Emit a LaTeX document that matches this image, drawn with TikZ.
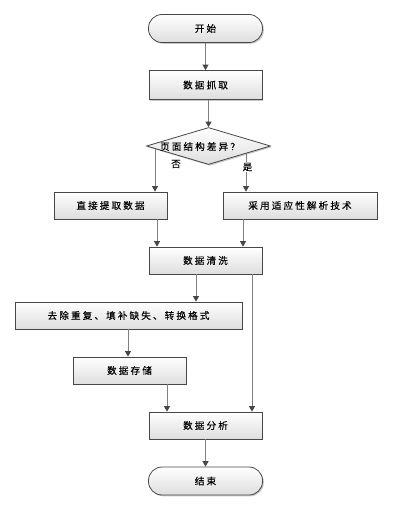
\documentclass[tikz,border=0pt]{standalone}
\usepackage{fontspec}
\newfontfamily\cjk[LetterSpace=22,FakeBold=0.15]{Noto Sans CJK SC}
\usetikzlibrary{arrows.meta,shapes.geometric,shadows,calc}
\begin{document}
\begin{tikzpicture}[x=1pt,y=-1pt,
  box/.style={draw=black!72, line width=0.8pt, top color=white, bottom color=black!13,
    drop shadow={shadow xshift=1.3pt, shadow yshift=-1.3pt, fill=black!35, opacity=0.6},
    minimum width=113pt, minimum height=27pt, inner sep=0pt,
    font=\cjk\fontsize{9.6}{11}\selectfont},
  term/.style={box, rounded corners=13.5pt, minimum width=114pt, minimum height=28pt},
  dia/.style={box, diamond, minimum width=124pt, minimum height=37pt},
  lbl/.style={inner sep=0.5pt, font=\cjk\fontsize{9.6}{11}\selectfont},
  arr/.style={draw=black!50, line width=1pt, -{Triangle[length=5.5pt,width=6pt,color=black!72]}}
]
\fill[white] (0,0) rectangle (397,507);
\useasboundingbox (0,0) rectangle (397,507);

\node[term] (start) at (205.5,28.5) {开始};
\node[box, minimum height=29pt] (grab) at (205.5,85) {数据抓取};
\node[dia] (dia) at (208.5,146) {};
\node[lbl] (q) at (200,146.5) {页面结构差异？};
\node[box] (direct) at (110.5,205.5) {直接提取数据};
\node[box, minimum width=154pt] (adapt) at (300,205.5) {采用适应性解析技术};
\node[box] (clean) at (205.5,260.5) {数据清洗};
\node[box, minimum width=227pt] (remove) at (128.5,315.5) {去除重复、填补缺失、转换格式};
\node[box] (store) at (129.5,370.5) {数据存储};
\node[box] (analyze) at (205.5,425.5) {数据分析};
\node[term] (end) at (205.5,481) {结束};

\coordinate (nob) at (155,148.5);
\coordinate (yesb) at (246,153);
\coordinate (xa) at (157,0);
\coordinate (xb) at (243,0);
\coordinate (xc) at (196,0);
\coordinate (xd) at (252,0);
\coordinate (xe) at (128,0);
\coordinate (xf) at (167,0);

\draw[arr] (start) -- (grab);
\draw[arr] (grab.south -| dia.north) -- (dia.north);
\draw[arr] (nob) -- (nob |- direct.north);
\draw[arr] (yesb) -- (yesb |- adapt.north);
\node[lbl] (no) at (176,164) {否};
\node[lbl, fill=white] (yes) at (247.5,167) {是};
\draw[arr] (direct.south -| xa) -- (clean.north -| xa);
\draw[arr] (adapt.south -| xb) -- (clean.north -| xb);
\draw[arr] (clean.south -| xc) -- (remove.north -| xc);
\draw[arr] (clean.south -| xd) -- (analyze.north -| xd);
\draw[arr] (remove.south -| xe) -- (store.north -| xe);
\draw[arr] (store.south -| xf) -- (analyze.north -| xf);
\draw[arr] (analyze) -- (end);
\end{tikzpicture}
\end{document}
